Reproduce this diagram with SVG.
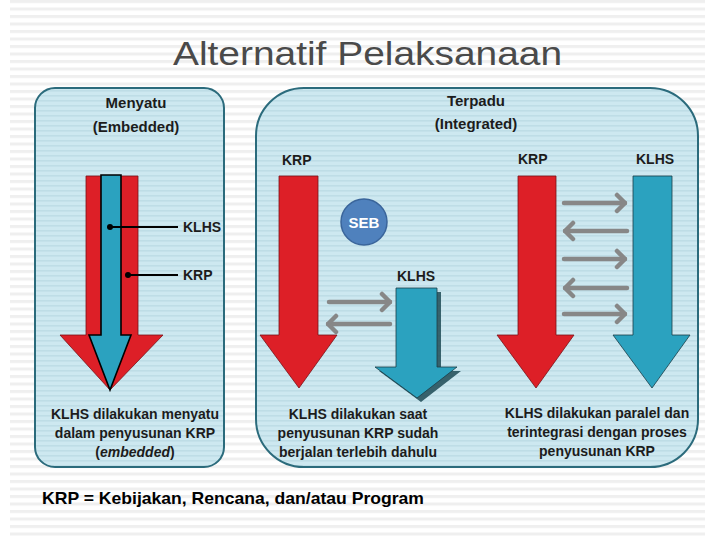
<svg xmlns="http://www.w3.org/2000/svg" width="705" height="536" viewBox="0 0 705 536">
<defs>
<pattern id="bgStripes" width="8" height="7.5" patternUnits="userSpaceOnUse">
<rect width="8" height="7.5" fill="#ffffff"/>
<rect y="0" width="8" height="3" fill="#efefef"/>
</pattern>
<pattern id="boxStripes" width="8" height="5" patternUnits="userSpaceOnUse">
<rect width="8" height="5" fill="#cde8f0"/>
<rect y="0" width="8" height="1.6" fill="#bedde6"/>
</pattern>
<marker id="chev" viewBox="-12 -11 14 22" markerWidth="14" markerHeight="22" refX="0" refY="0" markerUnits="userSpaceOnUse" orient="auto">
<path d="M-8,-8 L0,0 L-8,8" fill="none" stroke="#878787" stroke-width="4.5" stroke-linecap="round" stroke-linejoin="round"/>
</marker>
</defs>
<style>
.box{fill:url(#boxStripes);stroke:#2b6b7c;stroke-width:2}
.lbl{font-family:"Liberation Sans",Arial,sans-serif;font-weight:bold;fill:#1c1c1c;font-size:14px}
.cap{font-family:"Liberation Sans",Arial,sans-serif;font-weight:bold;fill:#1c1c1c;font-size:14px;text-anchor:middle}
.ttl{font-family:"Liberation Sans",Arial,sans-serif;font-weight:bold;fill:#1c1c1c;font-size:15px;text-anchor:middle}
.red{fill:#dd1f27;stroke:#7a1216;stroke-width:0.8}
.blue{fill:#2ba2bf;stroke:#1b3d47;stroke-width:0.8}
.gray{stroke:#878787;stroke-width:4.5;fill:none;stroke-linecap:round;marker-end:url(#chev)}
.lead{stroke:#000;stroke-width:1.8}
</style>
<rect width="705" height="536" fill="#ffffff"/>
<rect x="10" y="0" width="695" height="536" fill="url(#bgStripes)"/>
<text x="173" y="65" font-family="'Liberation Sans',Arial,sans-serif" font-size="34" fill="#4a4a4a" textLength="389" lengthAdjust="spacingAndGlyphs">Alternatif Pelaksanaan</text>

<g id="embedded">
<rect class="box" x="35" y="88" width="189" height="379" rx="20"/>
<text class="ttl" x="136" y="108">Menyatu</text>
<text class="ttl" x="136" y="132">(Embedded)</text>
<polygon class="red" points="86,176 138,176 138,335 163,335 110,390 60,335 86,335"/>
<polygon fill="#2ba2bf" stroke="#000" stroke-width="1.6" points="101,175 121,175 121,335 131,335 110,390 89,335 101,335"/>
<text class="lbl" x="183" y="232">KLHS</text>
<text class="lbl" x="183" y="280">KRP</text>
<text class="cap" x="135" y="419">KLHS dilakukan menyatu</text>
<text class="cap" x="135" y="438">dalam penyusunan KRP</text>
<text class="cap" x="135" y="457">(<tspan font-style="italic">embedded</tspan>)</text>
</g>

<g id="integrated">
<rect class="box" x="256" y="88" width="442" height="379" rx="48"/>
<text class="ttl" x="476" y="106">Terpadu</text>
<text class="ttl" x="476" y="129">(Integrated)</text>
</g>

<g id="sequential">
<text class="lbl" x="282" y="165">KRP</text>
<polygon class="red" points="279,176 318,176 318,335 337,335 299,388 260,335 279,335"/>
<text class="lbl" x="397" y="281">KLHS</text>
<polygon fill="#1d4a55" opacity="0.85" points="400,292 441,292 441,371 461,371 421,402 379,371 400,371"/>
<polygon class="blue" points="396,288 437,288 437,367 457,367 417,398 375,367 396,367"/>
<text class="cap" x="358" y="419">KLHS dilakukan saat</text>
<text class="cap" x="358" y="438">penyusunan KRP sudah</text>
<text class="cap" x="358" y="457">berjalan terlebih dahulu</text>
</g>

<g id="seb">
<circle cx="364" cy="222" r="23" fill="#4f81bd" stroke="#3a659b" stroke-width="1.5"/>
<text x="364" y="227.5" text-anchor="middle" font-family="'Liberation Sans',Arial,sans-serif" font-weight="bold" font-size="15" fill="#ffffff">SEB</text>
</g>

<g id="parallel">
<text class="lbl" x="518" y="164">KRP</text>
<text class="lbl" x="636" y="164">KLHS</text>
<polygon class="red" points="518,176 556,176 556,335 574,335 536,388 497,335 518,335"/>
<polygon class="blue" points="633,176 672,176 672,335 690,335 652,388 613,335 633,335"/>
<text class="cap" x="597" y="418">KLHS dilakukan paralel dan</text>
<text class="cap" x="597" y="437">terintegrasi dengan proses</text>
<text class="cap" x="597" y="456">penyusunan KRP</text>
</g>

<g id="connectors">
<line class="lead" x1="110" y1="227" x2="178" y2="227"/>
<circle cx="110" cy="227" r="3"/>
<line class="lead" x1="128" y1="275" x2="178" y2="275"/>
<circle cx="128" cy="275" r="3"/>
<line class="gray" x1="329" y1="302" x2="390" y2="302"/>
<line class="gray" x1="390" y1="324" x2="328" y2="324"/>
<line class="gray" x1="564" y1="203" x2="625" y2="203"/>
<line class="gray" x1="627" y1="231" x2="565" y2="231"/>
<line class="gray" x1="564" y1="259" x2="625" y2="259"/>
<line class="gray" x1="627" y1="288" x2="565" y2="288"/>
<line class="gray" x1="564" y1="314" x2="625" y2="314"/>
</g>

<text x="42" y="504" font-family="'Liberation Sans',Arial,sans-serif" font-weight="bold" font-size="17" fill="#000" textLength="382" lengthAdjust="spacingAndGlyphs">KRP = Kebijakan, Rencana, dan/atau Program</text>
</svg>
